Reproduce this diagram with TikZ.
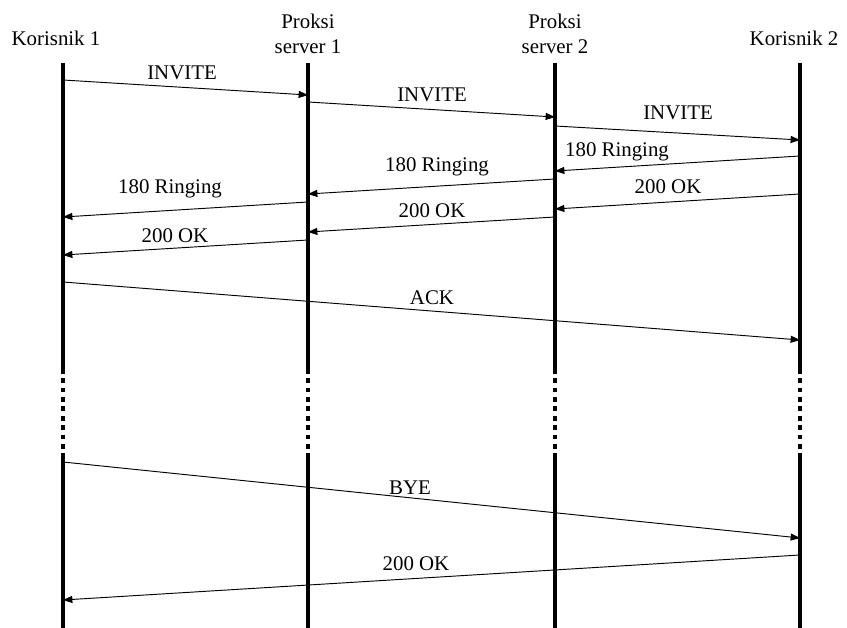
\documentclass[tikz,border=0pt]{standalone}
\usepackage{fontspec}
\setmainfont{Liberation Serif}
\usetikzlibrary{arrows.meta}

\begin{document}
\begin{tikzpicture}[x=0.03cm,y=-0.03cm,
    lifeline/.style={line width=2.6pt},
    gapline/.style={line width=2.6pt,dash pattern=on 4pt off 4pt},
    msg/.style={line width=0.8pt,-{Triangle[length=8pt,width=6pt]}},
    lbl/.style={font=\fontsize{17.8}{20}\selectfont,inner sep=0pt},
    hdr/.style={font=\fontsize{17.8}{21}\selectfont,align=center,inner sep=0pt}]
  \useasboundingbox (0,0) rectangle (847,628);
  % Participants
  \node[hdr] (k1) at (56,38) {Korisnik 1};
  \node[hdr] (p1) at (308,34) {Proksi\\server 1};
  \node[hdr] (p2) at (555,34) {Proksi\\server 2};
  \node[hdr] (k2) at (794,38) {Korisnik 2};
  % Lifelines: solid, dotted gap, solid
  \foreach \n/\x in {k1/63, p1/308, p2/555, k2/800}{
    \coordinate (\n top) at (\x,63);
    \coordinate (\n gapa) at (\x,369);
    \coordinate (\n gapb) at (\x,455);
    \coordinate (\n bot) at (\x,628);
    \draw[lifeline] (\n top) -- (\n gapa);
    \draw[gapline] (\n gapa) -- (\n gapb);
    \draw[lifeline] (\n gapb) -- (\n bot);
  }
  % Messages: name/x start/y start/x end/y end
  \foreach \m/\xa/\ya/\xb/\yb in {
    inv1/63/80/308/95, inv2/308/102/555/117, inv3/555/126/800/140,
    rng1/800/156/555/171, rng2/555/179/308/194, rng3/308/202/63/217,
    ok1/800/194/555/209, ok2/555/217/308/232, ok3/308/240/63/255,
    ack/63/282/800/340, bye/63/462/800/538, okb/800/555/63/600}{
    \coordinate (\m s) at (\xa,\ya);
    \coordinate (\m e) at (\xb,\yb);
    \draw[msg] (\m s) -- (\m e);
  }
  % Labels
  \foreach \m/\x/\y/\t in {
    inv1/182/73/INVITE, inv2/432/95/INVITE, inv3/678/113/INVITE,
    rng1/617/152/180 Ringing, rng2/437/167/180 Ringing, rng3/170/189/180 Ringing,
    ok1/668/187/200 OK, ok2/432/211/200 OK, ok3/175/236/200 OK,
    ack/432/298/ACK, bye/410/488/BYE, okb/416/564/200 OK}{
    \node[lbl] (\m l) at (\x,\y) {\t};
  }
\end{tikzpicture}
\end{document}
